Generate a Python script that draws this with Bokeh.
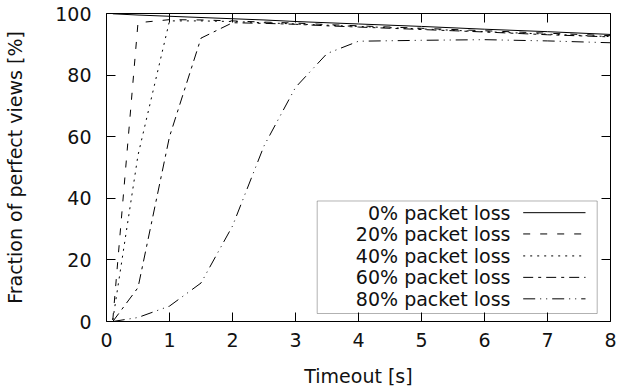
from bokeh.plotting import figure
from bokeh.models import (LinearAxis, FixedTicker, Range1d, BoxAnnotation,
                          Label, Arrow, CustomLabelingPolicy)
from bokeh.embed import file_html
from bokeh.resources import INLINE

# ---- data ----
timeout = [0.1, 0.5, 1, 1.5, 2, 2.5, 3, 3.5, 4, 5, 6, 7, 8]
loss0 = [99.9, 99.5, 99.1, 98.7, 98.3, 97.9, 97.4, 97.0, 96.6, 95.8, 94.9, 94.1, 93.2]
loss20 = [0.5, 97.0, 98.0, 97.9, 97.6, 97.2, 96.9, 96.4, 96.0, 95.2, 94.4, 93.6, 92.8]
loss40 = [0.5, 54.0, 97.6, 97.6, 97.4, 97.0, 96.6, 96.2, 95.8, 95.0, 94.1, 93.3, 92.5]
loss60 = [0.0, 11.0, 60.0, 92.0, 97.0, 96.8, 96.5, 96.0, 95.6, 94.8, 94.0, 93.1, 92.4]
loss80 = [0.0, 1.3, 5.0, 12.5, 31.0, 57.0, 76.0, 87.0, 91.0, 91.3, 91.5, 91.1, 90.5]

series_labels = ["0% packet loss", "20% packet loss", "40% packet loss",
                 "60% packet loss", "80% packet loss"]
series_values = [loss0, loss20, loss40, loss60, loss80]
x_ticks = [0, 1, 2, 3, 4, 5, 6, 7, 8]
y_ticks = [0, 20, 40, 60, 80, 100]

# ---- styles ----
dashes = ["solid", "7 10", "2 5", "10 5 3 5", "12 5 1 5 1 5"]
FONT = "DejaVu Sans"
FS = "19px"
TXT = "#111111"

p = figure(width=618, height=392, output_backend="svg", toolbar_location=None,
           x_range=Range1d(0, 8), y_range=Range1d(0, 100),
           min_border_left=106, min_border_right=8, min_border_top=13,
           min_border_bottom=71, x_axis_location=None, y_axis_location=None)
p.grid.visible = False
p.outline_line_color = "black"
p.outline_line_alpha = 1
p.outline_line_width = 1
p.background_fill_color = "white"
p.border_fill_color = "white"

hide_all = CustomLabelingPolicy(code="for (const i of indices) { indices.unset(i) } return indices")


def make_axis(ticks, labels=True, label=None):
    ax = LinearAxis(ticker=FixedTicker(ticks=ticks))
    ax.major_tick_in = 9
    ax.major_tick_out = 0
    ax.minor_tick_in = 0
    ax.minor_tick_out = 0
    ax.major_tick_line_color = "black"
    ax.axis_line_color = None
    if labels:
        ax.major_label_text_font = FONT
        ax.major_label_text_font_size = FS
        ax.major_label_text_color = TXT
    else:
        ax.major_label_text_font_size = "0px"
        ax.major_label_standoff = 0
        ax.major_label_policy = hide_all
    if label:
        ax.axis_label = label
        ax.axis_label_text_font = FONT
        ax.axis_label_text_font_size = FS
        ax.axis_label_text_font_style = "normal"
        ax.axis_label_text_color = TXT
    return ax


xb = make_axis(x_ticks, True, "Timeout [s]")
xb.major_label_standoff = 11
xb.axis_label_standoff = 15
p.add_layout(xb, "below")

yl = make_axis(y_ticks, True, "Fraction of perfect views [%]")
yl.major_label_standoff = 15
yl.axis_label_standoff = 26
p.add_layout(yl, "left")

p.add_layout(make_axis(x_ticks, False), "above")
p.add_layout(make_axis(y_ticks, False), "right")

for vals, d in zip(series_values, dashes):
    p.line(timeout, vals, line_color="black", line_width=1, line_dash=d)

# ---- legend (label left, sample right, as in the reference) ----
px_per_x = 63.0
px_per_y = 3.085
frame_l, frame_b = 106.0, 320.7


def dx(px):
    return (px - frame_l) / px_per_x


def dy(py):
    return (frame_b - py) / px_per_y


p.add_layout(BoxAnnotation(left=dx(316.7), right=dx(596.7), top=dy(200), bottom=dy(312.7),
                           fill_alpha=0, line_color="black", line_width=1))
row_py = [211.7, 233.0, 255.0, 276.5, 298.0]
for lab, d, ry in zip(series_labels, dashes, row_py):
    p.add_layout(Label(x=dx(510), y=dy(ry), text=lab, text_align="right",
                       text_baseline="middle", text_font=FONT, text_font_size=FS,
                       text_color=TXT))
    p.add_layout(Arrow(x_start=dx(522.7), x_end=dx(585), y_start=dy(ry), y_end=dy(ry),
                       start=None, end=None, line_color="black", line_width=1,
                       line_dash=d))

open("out.html", "w").write(file_html(p, INLINE))
